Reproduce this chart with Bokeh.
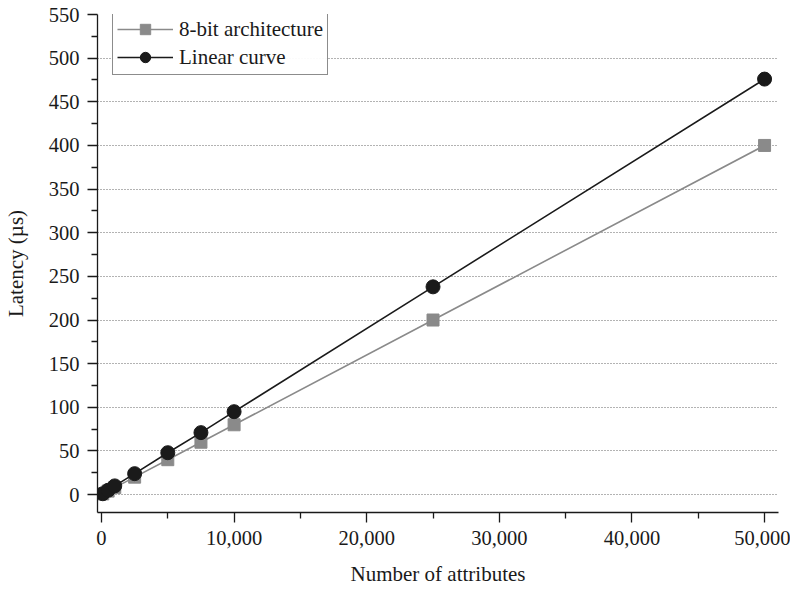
from bokeh.plotting import figure
from bokeh.models import Range1d, FixedTicker, NumeralTickFormatter, Legend, LegendItem
from bokeh.embed import file_html
from bokeh.resources import INLINE

attributes = [100, 500, 1000, 2500, 5000, 7500, 10000, 25000, 50000]
latency_8bit = [0.8, 4, 8, 20, 40, 60, 80, 200, 400]
latency_linear = [1, 5, 10, 24, 48, 71, 95, 238, 476]

x_ticks = [0, 10000, 20000, 30000, 40000, 50000]
x_minor = [5000, 15000, 25000, 35000, 45000]
y_ticks = list(range(0, 551, 50))
y_minor = [v + 25 for v in y_ticks[:-1]]

FONT = "Liberation Serif"

p = figure(width=790, height=588, output_backend="svg", toolbar_location=None,
           x_range=Range1d(-300, 51050), y_range=Range1d(-20.5, 550),
           min_border_left=97, min_border_top=14, min_border_right=12, min_border_bottom=74)
p.outline_line_color = None
p.background_fill_color = "white"
p.border_fill_color = "white"

p.xgrid.grid_line_color = None
p.ygrid.grid_line_color = "#666666"
p.ygrid.grid_line_dash = "1 2"
p.ygrid.grid_line_width = 1

gray = "#8a8a8a"
black = "#1a1a1a"

l1 = p.line(attributes, latency_8bit, line_color=gray, line_width=1.6)
s1 = p.scatter(attributes, latency_8bit, marker="square", size=12, fill_color=gray, line_color=gray)
l2 = p.line(attributes, latency_linear, line_color=black, line_width=1.6)
s2 = p.scatter(attributes, latency_linear, marker="circle", size=14, fill_color=black, line_color=black)

legend = Legend(items=[LegendItem(label="8-bit architecture", renderers=[l1, s1]),
                       LegendItem(label="Linear curve", renderers=[l2, s2])],
                location=(15, 437))
legend.label_text_font = FONT
legend.label_text_font_size = "21px"
legend.label_text_color = black
legend.label_height = 26
legend.glyph_height = 26
legend.border_line_color = black
legend.border_line_width = 1
legend.margin = 0
legend.padding = 4
legend.spacing = 2
legend.glyph_width = 56
legend.label_standoff = 6
p.add_layout(legend)

for ax in (p.xaxis[0], p.yaxis[0]):
    ax.axis_line_color = black
    ax.axis_line_width = 1.3
    ax.major_tick_line_color = black
    ax.major_tick_line_width = 1.3
    ax.minor_tick_line_color = black
    ax.minor_tick_line_width = 1.3
    ax.major_tick_out = 10
    ax.major_tick_in = 0
    ax.minor_tick_out = 6
    ax.minor_tick_in = 0
    ax.major_label_text_font = FONT
    ax.major_label_text_font_size = "20.5px"
    ax.major_label_text_color = black
    ax.axis_label_text_font = FONT
    ax.axis_label_text_font_size = "21px"
    ax.axis_label_text_font_style = "normal"
    ax.axis_label_text_color = black

p.xaxis.ticker = FixedTicker(ticks=x_ticks, minor_ticks=x_minor)
p.xaxis.formatter = NumeralTickFormatter(format="0,0")
p.yaxis.ticker = FixedTicker(ticks=y_ticks, minor_ticks=y_minor)
p.xaxis.axis_label = "Number of attributes"
p.yaxis.axis_label = "Latency (µs)"
p.xaxis.major_label_standoff = 8
p.xaxis.axis_label_standoff = 14
p.yaxis.major_label_standoff = 8
p.yaxis.axis_label_standoff = 18

open("out.html", "w").write(file_html(p, INLINE))
